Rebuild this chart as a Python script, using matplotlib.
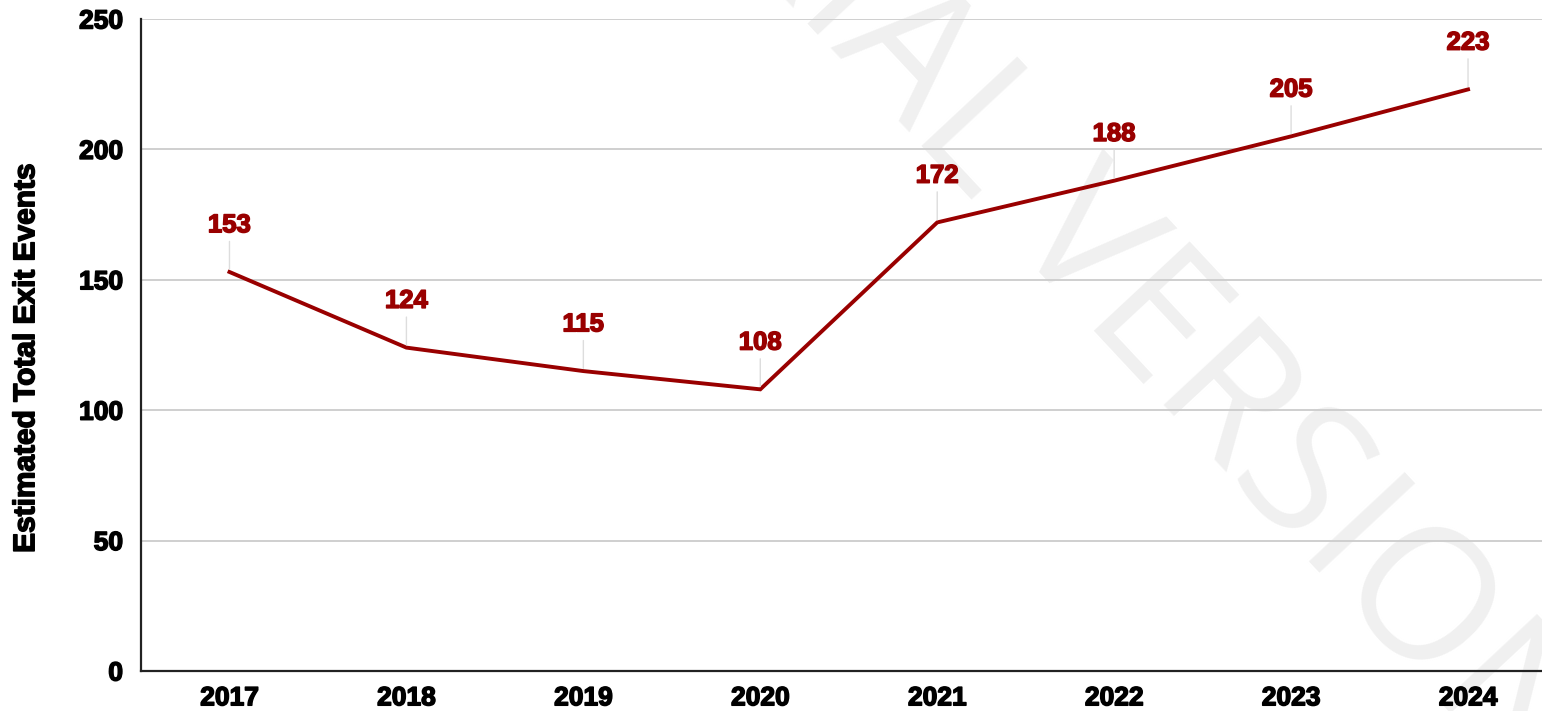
import matplotlib
matplotlib.use("Agg")
import matplotlib.pyplot as plt
import matplotlib.patheffects as pe

years = ["2017", "2018", "2019", "2020", "2021", "2022", "2023", "2024"]
exit_events = [153, 124, 115, 108, 172, 188, 205, 223]
y_ticks = [0, 50, 100, 150, 200, 250]

plt.rcParams["font.family"] = ["Liberation Sans", "DejaVu Sans"]

LINE_COLOR = "#990000"
GRID_COLOR = "#cccccc"


def heavy(color):
    return [pe.withStroke(linewidth=1.1, foreground=color)]


fig = plt.figure(figsize=(15.42, 7.11), dpi=100)
ax = fig.add_axes([141 / 1542, 40 / 711, (1556.5 - 141) / 1542, (671 - 19) / 711])

x = list(range(len(years)))
ax.plot(x, exit_events, color=LINE_COLOR, lw=2.8, solid_joinstyle="miter", zorder=3)

# value labels with thin leader lines
for xi, v in zip(x, exit_events):
    ax.annotate(str(v), xy=(xi, v), xytext=(0, 25), textcoords="offset points",
                ha="center", va="bottom", fontsize=18.5, fontweight="bold",
                color=LINE_COLOR, zorder=4, path_effects=heavy(LINE_COLOR),
                arrowprops=dict(arrowstyle="-", color="#dddddd", lw=1.0,
                                shrinkA=1, shrinkB=2))

ax.set_xlim(-0.5, len(years) - 0.5)
ax.set_ylim(0, 250)
ax.set_xticks(x)
ax.set_xticklabels(years)
ax.set_yticks(y_ticks)
ax.tick_params(axis="x", length=0, pad=11, labelsize=19)
ax.tick_params(axis="y", length=0, pad=13, labelsize=19)
for lab in ax.get_xticklabels() + ax.get_yticklabels():
    lab.set_fontweight("bold")
    lab.set_path_effects(heavy("black"))

ax.grid(axis="y", color=GRID_COLOR, lw=1.3, zorder=0)
ax.set_axisbelow(True)
for side in ("top", "right"):
    ax.spines[side].set_visible(False)
for side in ("left", "bottom"):
    ax.spines[side].set_color("#222222")
    ax.spines[side].set_linewidth(1.6)

fig.text(0.017, 1 - 358 / 711, "Estimated Total Exit Events", rotation=90,
         ha="center", va="center", fontsize=21.5, fontweight="bold",
         path_effects=heavy("black"))

# background watermark, kept behind the data
ax.text(1120 / 1542, 1 - 290 / 711, "TRIAL VERSION", transform=fig.transFigure,
        rotation=-47, rotation_mode="anchor", ha="center", va="center",
        fontsize=132, color="#f0f0f0", fontweight="normal", zorder=0.2,
        clip_on=False, family=["Open Sans", "DejaVu Sans"])

fig.savefig("out.png", dpi=100)
